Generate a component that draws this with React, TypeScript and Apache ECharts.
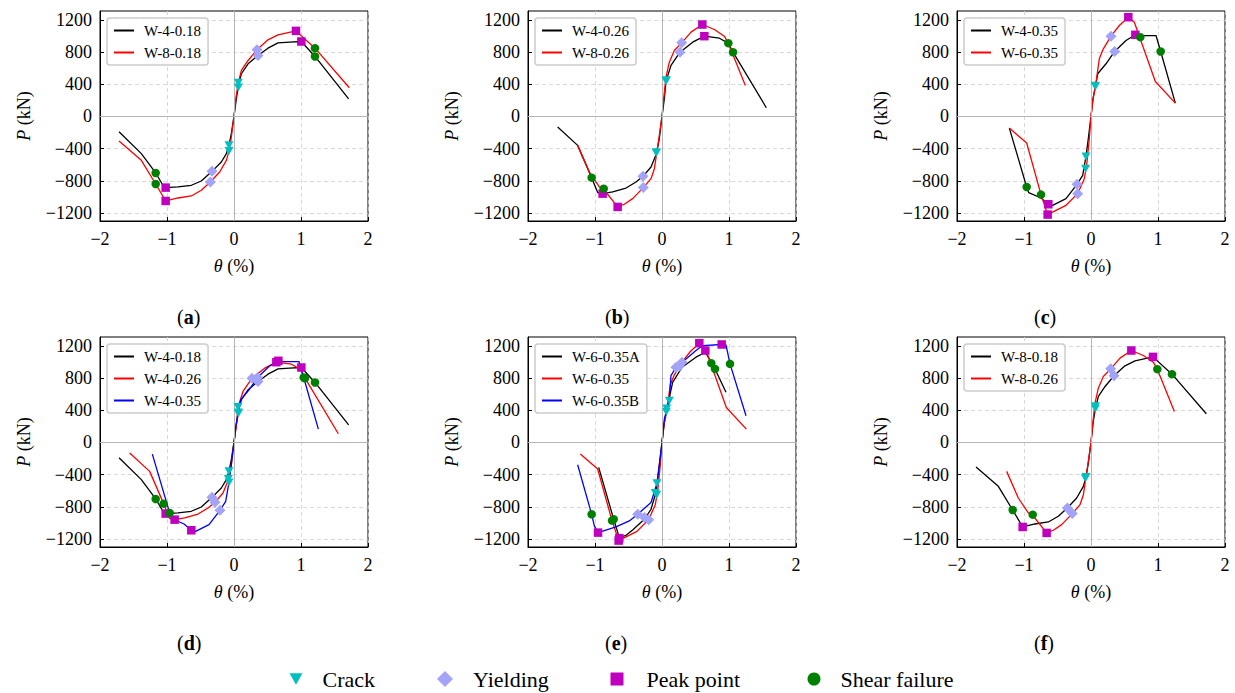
import React, { useEffect, useRef } from 'react';
import * as echarts from 'echarts';

// ---------- Data (theta %, P kN) ----------
const W4_018 = [[-1.716,-190],[-1.383,-463],[-1.169,-703],[-1.06,-856],[-1.02,-885],[-0.836,-877],[-0.637,-856],[-0.488,-803],[-0.328,-683],[-0.189,-567],[-0.114,-463],[-0.075,-360],[-0.04,-215],[0,0],[0.035,219],[0.065,385],[0.11,530],[0.21,654],[0.358,757],[0.507,848],[0.657,914],[0.83,923],[1.005,931],[1.209,745],[1.711,219]];
const W8_018 = [[-1.716,-306],[-1.383,-546],[-1.169,-840],[-1.02,-1051],[-0.836,-1014],[-0.637,-989],[-0.488,-918],[-0.353,-815],[-0.214,-691],[-0.114,-546],[-0.075,-430],[-0.04,-257],[0,0],[0.03,240],[0.065,418],[0.11,571],[0.21,695],[0.343,828],[0.507,952],[0.657,1014],[0.925,1063],[1.209,848],[1.721,356]];
const W4_026 = [[-1.557,-132],[-1.259,-360],[-1.05,-761],[-0.96,-947],[-0.886,-960],[-0.736,-939],[-0.537,-890],[-0.388,-815],[-0.284,-745],[-0.164,-629],[-0.085,-468],[-0.04,-277],[0,0],[0.035,219],[0.06,439],[0.134,633],[0.269,798],[0.458,923],[0.632,997],[0.856,972],[0.99,910],[1.06,798],[1.557,108]];
const W8_026 = [[-1.259,-360],[-1.085,-691],[-0.935,-877],[-0.86,-918],[-0.662,-1125],[-0.562,-1092],[-0.438,-1022],[-0.279,-885],[-0.164,-774],[-0.114,-650],[-0.08,-463],[-0.04,-236],[0,0],[0.03,261],[0.06,488],[0.109,674],[0.184,819],[0.294,914],[0.433,1047],[0.602,1142],[0.781,1080],[0.93,997],[0.99,910],[1.244,385]];
const W4_035 = [[-1.219,-145],[-0.96,-877],[-0.93,-947],[-0.746,-1014],[-0.637,-1092],[-0.572,-1105],[-0.373,-1022],[-0.209,-844],[-0.124,-732],[-0.075,-497],[-0.04,-277],[0,0],[0.03,219],[0.065,372],[0.1,530],[0.224,654],[0.353,807],[0.522,943],[0.662,1014],[0.736,1005],[0.97,1005],[1.04,807],[1.259,165]];
const W6_035 = [[-1.219,-145],[-0.96,-331],[-0.746,-972],[-0.647,-1220],[-0.522,-1167],[-0.373,-1105],[-0.199,-960],[-0.1,-774],[-0.065,-608],[-0.025,-277],[0,0],[0.03,219],[0.065,364],[0.124,716],[0.184,840],[0.299,997],[0.423,1130],[0.557,1233],[0.647,1171],[0.96,434],[1.259,165]];
const W6_035A = [[-0.945,-311],[-0.721,-955],[-0.637,-1184],[-0.537,-1155],[-0.438,-1088],[-0.264,-955],[-0.164,-831],[-0.09,-623],[-0.04,-291],[0,0],[0.035,249],[0.07,407],[0.159,747],[0.299,934],[0.507,1059],[0.647,1121],[0.791,913],[0.955,623]];
const W6_035B = [[-1.259,-278],[-1.05,-893],[-1.01,-1038],[-0.955,-1121],[-0.687,-1051],[-0.488,-976],[-0.363,-893],[-0.164,-747],[-0.075,-507],[-0.03,-208],[0,0],[0.035,291],[0.109,519],[0.134,831],[0.209,934],[0.358,1038],[0.507,1142],[0.607,1204],[0.891,1217],[0.955,1213],[1.015,976],[1.254,332]];

// Characteristic points: crack, yielding, peak, shear failure
const W4_018_crack = [[0.065,360],[-0.075,-360]];
const W4_018_yield = [[0.358,757],[-0.328,-683]];
const W4_018_peak = [[1.005,931],[-1.02,-885]];
const W4_018_shear = [[1.209,745],[-1.169,-703]];
const W8_018_crack = [[0.065,418],[-0.075,-430]];
const W8_018_yield = [[0.343,828],[-0.353,-815]];
const W8_018_peak = [[0.925,1063],[-1.02,-1051]];
const W8_018_shear = [[1.209,848],[-1.169,-840]];
const W4_026_crack = [[0.06,439],[-0.085,-455]];
const W4_026_yield = [[0.269,798],[-0.284,-745]];
const W4_026_peak = [[0.632,997],[-0.886,-960]];
const W4_026_shear = [[1.06,798],[-1.05,-761]];
const W8_026_crack = [[0.065,450],[-0.085,-444]];
const W8_026_yield = [[0.294,914],[-0.279,-885]];
const W8_026_peak = [[0.602,1142],[-0.662,-1125]];
const W8_026_shear = [[0.99,910],[-0.87,-898]];
const W4_035_crack = [[0.065,372],[-0.075,-497]];
const W4_035_yield = [[0.353,807],[-0.209,-844]];
const W4_035_peak = [[0.662,1014],[-0.637,-1092]];
const W4_035_shear = [[1.04,807],[-0.96,-877]];
const W6_035_crack = [[0.065,380],[-0.08,-650]];
const W6_035_yield = [[0.299,997],[-0.199,-960]];
const W6_035_peak = [[0.557,1233],[-0.647,-1220]];
const W6_035_shear = [[0.736,985],[-0.746,-972]];
const W6_035A_crack = [[0.07,420],[-0.1,-630]];
const W6_035A_yield = [[0.26,950],[-0.26,-934]];
const W6_035A_peak = [[0.647,1142],[-0.637,-1190]];
const W6_035A_shear = [[0.791,913],[-0.721,-955]];
const W6_035B_crack = [[0.109,519],[-0.075,-507]];
const W6_035B_yield = [[0.209,934],[-0.363,-893]];
const W6_035B_peak = [[0.891,1217],[-0.955,-1121]];
const W6_035B_shear = [[1.015,976],[-1.05,-893]];

const X_TICKS_INTERVAL = 1;
const Y_TICKS = [-1200, -800, -400, 0, 400, 800, 1200];
const PANEL_LABELS = ['a', 'b', 'c', 'd', 'e', 'f'];
const MARKER_NAMES = ['Crack', 'Yielding', 'Peak point', 'Shear failure'];

type Spec = { name: string; curve: number[][]; marks: number[][][] };
const S = (name: string, curve: number[][], c: number[][], y: number[][], p: number[][], s: number[][]): Spec => ({ name, curve, marks: [c, y, p, s] });

const SP_W4_018 = S('W-4-0.18', W4_018, W4_018_crack, W4_018_yield, W4_018_peak, W4_018_shear);
const SP_W8_018 = S('W-8-0.18', W8_018, W8_018_crack, W8_018_yield, W8_018_peak, W8_018_shear);
const SP_W4_026 = S('W-4-0.26', W4_026, W4_026_crack, W4_026_yield, W4_026_peak, W4_026_shear);
const SP_W8_026 = S('W-8-0.26', W8_026, W8_026_crack, W8_026_yield, W8_026_peak, W8_026_shear);
const SP_W4_035 = S('W-4-0.35', W4_035, W4_035_crack, W4_035_yield, W4_035_peak, W4_035_shear);
const SP_W6_035 = S('W-6-0.35', W6_035, W6_035_crack, W6_035_yield, W6_035_peak, W6_035_shear);
const SP_W6_035A = S('W-6-0.35A', W6_035A, W6_035A_crack, W6_035A_yield, W6_035A_peak, W6_035A_shear);
const SP_W6_035B = S('W-6-0.35B', W6_035B, W6_035B_crack, W6_035B_yield, W6_035B_peak, W6_035B_shear);

const PANEL_SPECS: Spec[][] = [
  [SP_W4_018, SP_W8_018],
  [SP_W4_026, SP_W8_026],
  [SP_W4_035, SP_W6_035],
  [SP_W4_018, SP_W4_026, SP_W4_035],
  [SP_W6_035A, SP_W6_035, SP_W6_035B],
  [SP_W8_018, SP_W8_026],
];

// ---------- Styles ----------
const FONT = 'Liberation Serif';
const LINE_COLORS = ['#000000', '#ff0000', '#0000ff'];
const MARKER_STYLES = [
  { symbol: 'path://M0,0L10,0L5,8.66Z', size: [9, 8], color: '#00bfbf', legendH: 13, legendCx: 296, legendPad: 15 },
  { symbol: 'diamond', size: 11, color: '#a3a3f7', legendH: 16, legendCx: 445, legendPad: 15 },
  { symbol: 'rect', size: 8.5, color: '#bf00bf', legendH: 13, legendCx: 617, legendPad: 18 },
  { symbol: 'circle', size: 8.5, color: '#008000', legendH: 13, legendCx: 814, legendPad: 15 },
];
const GRID_LEFTS = [100, 528, 957];
const GRID_TOPS = [11, 337];
const GRID_W = 268;
const GRID_H = 210;

const fmtNum = (v: number) => (v < 0 ? '\u2212' + Math.abs(v) : String(v));
const txt = (size: number, extra: any = {}) => ({ fontFamily: FONT, fontSize: size, color: '#000', ...extra });

function buildOption() {
  const grid: any[] = [];
  const xAxis: any[] = [];
  const yAxis: any[] = [];
  const series: any[] = [];
  const legend: any[] = [];
  const graphic: any[] = [];

  PANEL_SPECS.forEach((specs, i) => {
    const left = GRID_LEFTS[i % 3];
    const top = GRID_TOPS[Math.floor(i / 3)];
    const key = PANEL_LABELS[i];
    grid.push({ left, top, width: GRID_W, height: GRID_H, show: true, borderColor: '#000', borderWidth: 1, backgroundColor: 'transparent' });
    xAxis.push({
      gridIndex: i, type: 'value', min: -2, max: 2, interval: X_TICKS_INTERVAL,
      axisLine: { show: true, onZero: false, lineStyle: { color: '#000', width: 1 } },
      axisTick: { show: true, inside: true, length: 4, lineStyle: { color: '#000' } },
      axisLabel: { ...txt(18), margin: 9, formatter: fmtNum },
      splitLine: { show: true, lineStyle: { type: [4, 3], color: '#cfcfcf', width: 0.8 } },
      name: '{i|θ}{t| (%)}', nameLocation: 'middle', nameGap: 36,
      nameTextStyle: { ...txt(18), rich: { i: txt(18, { fontStyle: 'italic' }), t: txt(18) } },
    });
    yAxis.push({
      gridIndex: i, type: 'value', min: -1300, max: 1310,
      axisLine: { show: true, onZero: false, lineStyle: { color: '#000', width: 1 } },
      axisTick: { show: true, inside: true, length: 4, lineStyle: { color: '#000' }, customValues: Y_TICKS },
      axisLabel: { ...txt(18), margin: 8, formatter: fmtNum, customValues: Y_TICKS },
      splitLine: { show: true, lineStyle: { type: [4, 3], color: '#cfcfcf', width: 0.8 } },
      name: '{i|P}{t| (kN)}', nameLocation: 'middle', nameGap: 67, nameRotate: 90,
      nameTextStyle: { ...txt(18), rich: { i: txt(18, { fontStyle: 'italic' }), t: txt(18) } },
    });
    specs.forEach((sp, j) => {
      const s: any = {
        type: 'line', name: `${sp.name}|${key}`, xAxisIndex: i, yAxisIndex: i,
        data: sp.curve, showSymbol: false, symbol: 'none', z: 3,
        lineStyle: { color: LINE_COLORS[j], width: 1.3 }, itemStyle: { color: LINE_COLORS[j] },
      };
      if (j === 0) {
        s.markLine = {
          silent: true, symbol: ['none', 'none'], label: { show: false },
          lineStyle: { color: '#b5b5b5', type: 'solid', width: 1 },
          data: [{ xAxis: 0 }, { yAxis: 0 }],
        };
      }
      series.push(s);
    });
    MARKER_STYLES.forEach((m, k) => {
      const pts: number[][] = [];
      specs.forEach((sp) => sp.marks[k].forEach((p) => pts.push(p)));
      series.push({
        type: 'scatter', name: `${MARKER_NAMES[k]}|${key}`, xAxisIndex: i, yAxisIndex: i,
        data: pts, symbol: m.symbol, symbolSize: m.size, z: 5,
        itemStyle: { color: m.color, opacity: 1 },
      });
    });
    legend.push({
      left: left + 7, top: top + 7, orient: 'vertical', selectedMode: false,
      data: specs.map((sp) => `${sp.name}|${key}`),
      formatter: (n: string) => n.split('|')[0],
      itemWidth: 20, itemHeight: 14, itemGap: 7,
      itemStyle: { opacity: 0, borderWidth: 0 },
      padding: [5, 7, 5, 6],
      borderColor: '#cccccc', borderWidth: 1.5, borderRadius: 3,
      backgroundColor: 'rgba(255,255,255,0.85)',
      textStyle: { ...txt(15), padding: [0, 0, 0, 5] },
    });
    graphic.push({
      type: 'text', left: left + 91 - 14, top: top + 296,
      style: {
        text: `{p|(}{b|${key}}{p|)}`,
        rich: {
          p: { fontFamily: FONT, fontSize: 20, fill: '#000' },
          b: { fontFamily: FONT, fontSize: 20, fontWeight: 'bold', fill: '#000' },
        },
      },
    });
  });

  MARKER_STYLES.forEach((m, k) => {
    legend.push({
      left: m.legendCx - m.legendH / 2, top: 668, selectedMode: false,
      data: [`${MARKER_NAMES[k]}|a`],
      formatter: (n: string) => n.split('|')[0],
      itemWidth: m.legendH, itemHeight: m.legendH, padding: 0,
      textStyle: { ...txt(22), padding: [0, 0, 0, m.legendPad] },
    });
  });

  return { animation: false, backgroundColor: '#ffffff', textStyle: { fontFamily: FONT }, grid, xAxis, yAxis, series, legend, graphic };
}

export default function App() {
  const ref = useRef<HTMLDivElement>(null);
  useEffect(() => {
    if (!ref.current) return;
    const chart = echarts.init(ref.current, undefined, { renderer: 'svg' });
    chart.setOption(buildOption() as any);
    return () => chart.dispose();
  }, []);
  return <div ref={ref} style={{ position: 'fixed', left: 0, top: 0, width: 1235, height: 693, background: '#fff' }} />;
}
